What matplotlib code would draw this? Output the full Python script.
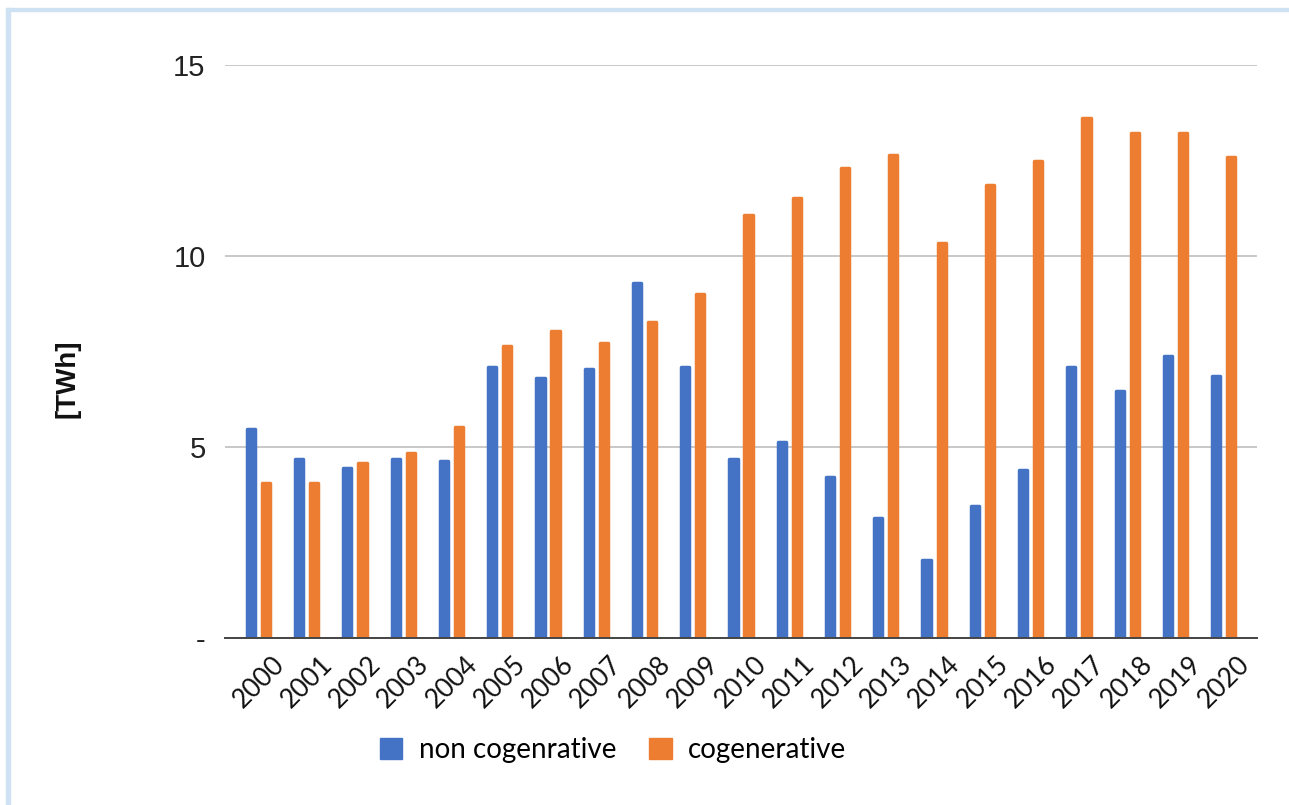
import numpy as np
import matplotlib
matplotlib.use("Agg")
import matplotlib.pyplot as plt
from matplotlib.patches import Patch, Rectangle
from matplotlib.transforms import ScaledTranslation

years = [str(y) for y in range(2000, 2021)]
non_cogenerative = [5.46, 4.68, 4.45, 4.68, 4.63, 7.09, 6.81, 7.03, 9.29, 7.09, 4.68,
                    5.12, 4.22, 3.15, 2.03, 3.45, 4.39, 7.09, 6.47, 7.38, 6.87]
cogenerative = [4.06, 4.06, 4.57, 4.85, 5.52, 7.65, 8.04, 7.71, 8.27, 9.01, 11.07,
                11.53, 12.31, 12.65, 10.35, 11.86, 12.48, 13.60, 13.21, 13.21, 12.59]
y_ticks = [0, 5, 10, 15]
y_tick_labels = ["-", "5", "10", "15"]

BLUE = "#4472c4"
ORANGE = "#ed7d31"

fig = plt.figure(figsize=(12.89, 8.05), dpi=100)
ax = fig.add_axes([0.1746, 0.2075, 0.8006, 0.7118])

x = np.arange(len(years))
w = 0.17
off = 0.156
for vals, col, sgn in [(non_cogenerative, BLUE, -1), (cogenerative, ORANGE, 1)]:
    ax.bar(x + sgn * off, vals, width=w, color=col, edgecolor=col,
           linewidth=2.5, joinstyle="round", zorder=3)

ax.set_xlim(-0.69, len(years) - 1 + 0.69)
ax.set_ylim(0, 15)

ax.set_yticks(y_ticks)
ax.set_yticklabels(y_tick_labels, fontsize=21, family="Liberation Sans", color="#222222")
ax.tick_params(axis="y", length=0, pad=14)
ax.yaxis.grid(True, color="#c8c8c8", linewidth=1.4, zorder=0)
ax.set_axisbelow(True)

ax.set_xticks(x)
ax.set_xticklabels(years, rotation=45, ha="right", rotation_mode="anchor",
                   fontsize=19, family="Lato", color="#111111")
ax.tick_params(axis="x", length=0, pad=4)
shift = ScaledTranslation(13 / 100, -8 / 100, fig.dpi_scale_trans)
for lab in ax.get_xticklabels():
    lab.set_transform(lab.get_transform() + shift)

for s in ["top", "right", "left"]:
    ax.spines[s].set_visible(False)
ax.spines["bottom"].set_color("#444444")
ax.spines["bottom"].set_linewidth(1.4)
ax.spines["bottom"].set_zorder(4)

fig.text(0.052, 0.530, "[TWh]", rotation=90, ha="center", va="center",
         fontsize=20, fontweight="bold", family="Liberation Sans", color="#111111")

handles = [Patch(facecolor=BLUE, edgecolor=BLUE), Patch(facecolor=ORANGE, edgecolor=ORANGE)]
fig.legend(handles, ["non cogenrative", "cogenerative"], loc="center",
           bbox_to_anchor=(0.4756, 0.068), ncol=2, frameon=False,
           prop={"family": "Lato", "size": 20}, handlelength=0.8, handleheight=0.8,
           handletextpad=0.6, columnspacing=1.2)

# light blue frame along the left and top edge
fig.patches.append(Rectangle((6 / 1289, -0.1), 4 / 1289, 1.1 - 8 / 805,
                             transform=fig.transFigure, color="#cfe2f3", zorder=0))
fig.patches.append(Rectangle((6 / 1289, 1 - 11 / 805), 1.1, 3 / 805,
                             transform=fig.transFigure, color="#cfe2f3", zorder=0))

fig.savefig("out.png", dpi=100)
